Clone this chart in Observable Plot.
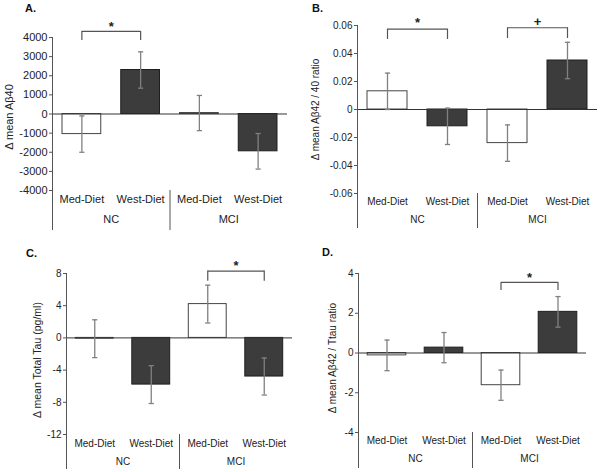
<!DOCTYPE html>
<html>
<head>
<meta charset="utf-8">
<script src="https://cdn.jsdelivr.net/npm/d3@7"></script>
<script src="https://cdn.jsdelivr.net/npm/@observablehq/plot@0.6"></script>
<style>
  html, body { margin: 0; padding: 0; background: #fff; }
  #root { position: relative; width: 600px; height: 472px; font-family: "Liberation Sans", Arial, sans-serif; }
  .panel { position: absolute; width: 300px; height: 236px; }
  .title { position: absolute; font-weight: bold; font-size: 11px; color: #111; }
</style>
</head>
<body>
<div id="root"></div>
<script>
// ---- Data ----
const groups = ["NC", "NC", "MCI", "MCI"];
const diets = ["Med-Diet", "West-Diet", "Med-Diet", "West-Diet"];
const groupNames = ["NC", "MCI"];

const abeta40Mean = [-1050, 2300, 50, -1950];
const abeta40SE = [950, 950, 920, 930];
const abeta40Ticks = [-4000, -3000, -2000, -1000, 0, 1000, 2000, 3000, 4000];

const ratio4240Mean = [0.013, -0.012, -0.024, 0.035];
const ratio4240SE = [0.013, 0.013, 0.013, 0.013];
const ratio4240Ticks = [-0.06, -0.04, -0.02, 0, 0.02, 0.04, 0.06];

const tauMean = [-0.1, -5.8, 4.2, -4.8];
const tauSE = [2.35, 2.35, 2.35, 2.3];
const tauTicks = [-12, -8, -4, 0, 4, 8];

const ratioTauMean = [-0.12, 0.27, -1.62, 2.07];
const ratioTauSE = [0.77, 0.76, 0.76, 0.77];
const ratioTauTicks = [-4, -2, 0, 2, 4];

// significance brackets: [from index, to index, label]
const sigA = [[0, 1, "*"]];
const sigB = [[0, 1, "*"], [2, 3, "+"]];
const sigC = [[2, 3, "*"]];
const sigD = [[2, 3, "*"]];

// ---- Panel builder ----
function panel(cfg) {
  const idx = d3.range(diets.length);
  const mean = cfg.mean, se = cfg.se;
  const ticks = cfg.ticks;
  const ymin = d3.min(ticks), ymax = d3.max(ticks);
  const H = 236, W = 300;
  const m = cfg.margin;
  const inset = cfg.inset;
  const fs = cfg.fontSize;
  const brackets = cfg.sig.map(([a, b, t], k) => ({a, b, t, top: cfg.bracket[k][0], tip: cfg.bracket[k][1]}));
  const capSym = {draw(ctx, size) { const w = 2.6; ctx.moveTo(-w, 0); ctx.lineTo(w, 0); }};

  return Plot.plot({
    width: W, height: H,
    marginLeft: m[3], marginRight: m[1], marginTop: m[0], marginBottom: m[2],
    style: {fontFamily: '"Liberation Sans", Arial, sans-serif', fontSize: fs + "px", color: "#222", background: "white", overflow: "visible"},
    x: {domain: [0, idx.length], axis: null},
    y: {domain: [ymin, ymax], axis: null},
    marks: [
      // bars
      Plot.rectY(idx, {
        x1: i => i, x2: i => i + 1, y1: 0, y2: i => mean[i],
        insetLeft: inset, insetRight: inset,
        fill: i => diets[i] === "Med-Diet" ? "#ffffff" : "#3c3c3c",
        stroke: i => diets[i] === "Med-Diet" ? "#444" : "#1e1e1e",
        strokeWidth: 1
      }),
      // zero line
      Plot.ruleY([0], {stroke: "#333", strokeWidth: 1}),
      // error bars
      Plot.ruleX(idx, {x: i => i + 0.5, y1: i => mean[i] - se[i], y2: i => mean[i] + se[i], stroke: "#808080", strokeWidth: 1.3}),
      Plot.dot(idx.flatMap(i => [[i, mean[i] - se[i]], [i, mean[i] + se[i]]]), {
        x: d => d[0] + 0.5, y: d => d[1], symbol: capSym, stroke: "#808080", strokeWidth: 1.3, r: 3
      }),
      // left axis line (extends below the frame through the labels)
      Plot.ruleX([0], {stroke: "#555", strokeWidth: 1, insetBottom: -cfg.divExt}),
      // group divider(s)
      Plot.ruleX(groupNames.slice(1), {
        x: g => groups.indexOf(g), y1: ymin, y2: ymin,
        stroke: "#555", strokeWidth: 1, insetBottom: -cfg.divExt
      }),
      // y axis ticks & labels
      Plot.axisY({ticks, tickSize: 3, tickPadding: 2, tickFormat: d => String(d), fontSize: fs + "px", stroke: "#555", label: null}),
      // y axis title
      Plot.text([cfg.label], {
        x: 0, y: (ymin + ymax) / 2, rotate: -90, textAnchor: "middle", lineAnchor: "middle",
        dx: cfg.labelDx, dy: cfg.labelDy, fontSize: cfg.labelSize, fill: "#222"
      }),
      // category labels
      Plot.text(idx, {x: i => i + 0.5, frameAnchor: "bottom", text: i => diets[i], dy: cfg.catDy, fontSize: fs + "px", fill: "#222"}),
      // group labels
      Plot.text(groupNames, {
        x: g => d3.mean(idx.filter(i => groups[i] === g)) + 0.5,
        frameAnchor: "bottom", text: g => g, dy: cfg.grpDy, fontSize: fs + "px", fill: "#222"
      }),
      // significance brackets
      Plot.link(brackets, {x1: d => d.a + 0.5, x2: d => d.b + 0.5, y1: d => d.top, y2: d => d.top, stroke: "#555", strokeWidth: 1.2}),
      Plot.ruleX(brackets.flatMap(d => [[d.a, d], [d.b, d]]), {x: e => e[0] + 0.5, y1: e => e[1].tip, y2: e => e[1].top, stroke: "#555", strokeWidth: 1.2}),
      Plot.text(brackets, {x: d => (d.a + d.b) / 2 + 0.5, y: d => d.top, text: d => d.t, dy: cfg.starDy, fontSize: "13px", fontWeight: "bold", fill: "#222"})
    ]
  });
}

const panels = [
  {title: "A.", left: 0, top: 0, tx: 25, ty: 2,
   mean: abeta40Mean, se: abeta40SE, ticks: abeta40Ticks, sig: sigA, bracket: [[4320, 3840]],
   label: "Δ mean Aβ40", margin: [37, 13, 46, 52], inset: 10, fontSize: 11, labelSize: "11px",
   labelDx: -43, labelDy: 3, catDy: 12, grpDy: 32, divExt: 40, starDy: -5},
  {title: "B.", left: 300, top: 0, tx: 12, ty: 2,
   mean: ratio4240Mean, se: ratio4240SE, ticks: ratio4240Ticks, sig: sigB, bracket: [[0.0574, 0.0500], [0.0584, 0.0507]],
   label: "Δ mean Aβ42 / 40 ratio", margin: [25, 3, 43, 57], inset: 10, fontSize: 10, labelSize: "10px",
   labelDx: -42, labelDy: 0, catDy: 11, grpDy: 29, divExt: 35, starDy: -6},
  {title: "C.", left: 0, top: 236, tx: 26, ty: 11,
   mean: tauMean, se: tauSE, ticks: tauTicks, sig: sigC, bracket: [[8.3, 7.05]],
   label: "Δ mean Total Tau (pg/ml)", margin: [37, 8, 38, 66], inset: 9.3, fontSize: 10, labelSize: "10.5px",
   labelDx: -29, labelDy: 6, catDy: 12, grpDy: 30, divExt: 35, starDy: -5},
  {title: "D.", left: 300, top: 236, tx: 22, ty: 10,
   mean: ratioTauMean, se: ratioTauSE, ticks: ratioTauTicks, sig: sigD, bracket: [[3.55, 3.15]],
   label: "Δ mean Aβ42 / Ttau ratio", margin: [37, 14, 40, 58], inset: 9.2, fontSize: 10, labelSize: "10px",
   labelDx: -26, labelDy: 5, catDy: 11, grpDy: 29, divExt: 36, starDy: -5}
];

const root = document.getElementById("root");
for (const p of panels) {
  const div = document.createElement("div");
  div.className = "panel";
  div.style.left = p.left + "px";
  div.style.top = p.top + "px";
  div.appendChild(panel(p));
  const t = document.createElement("div");
  t.className = "title";
  t.textContent = p.title;
  t.style.left = p.tx + "px";
  t.style.top = p.ty + "px";
  div.appendChild(t);
  root.appendChild(div);
}
</script>
</body>
</html>
